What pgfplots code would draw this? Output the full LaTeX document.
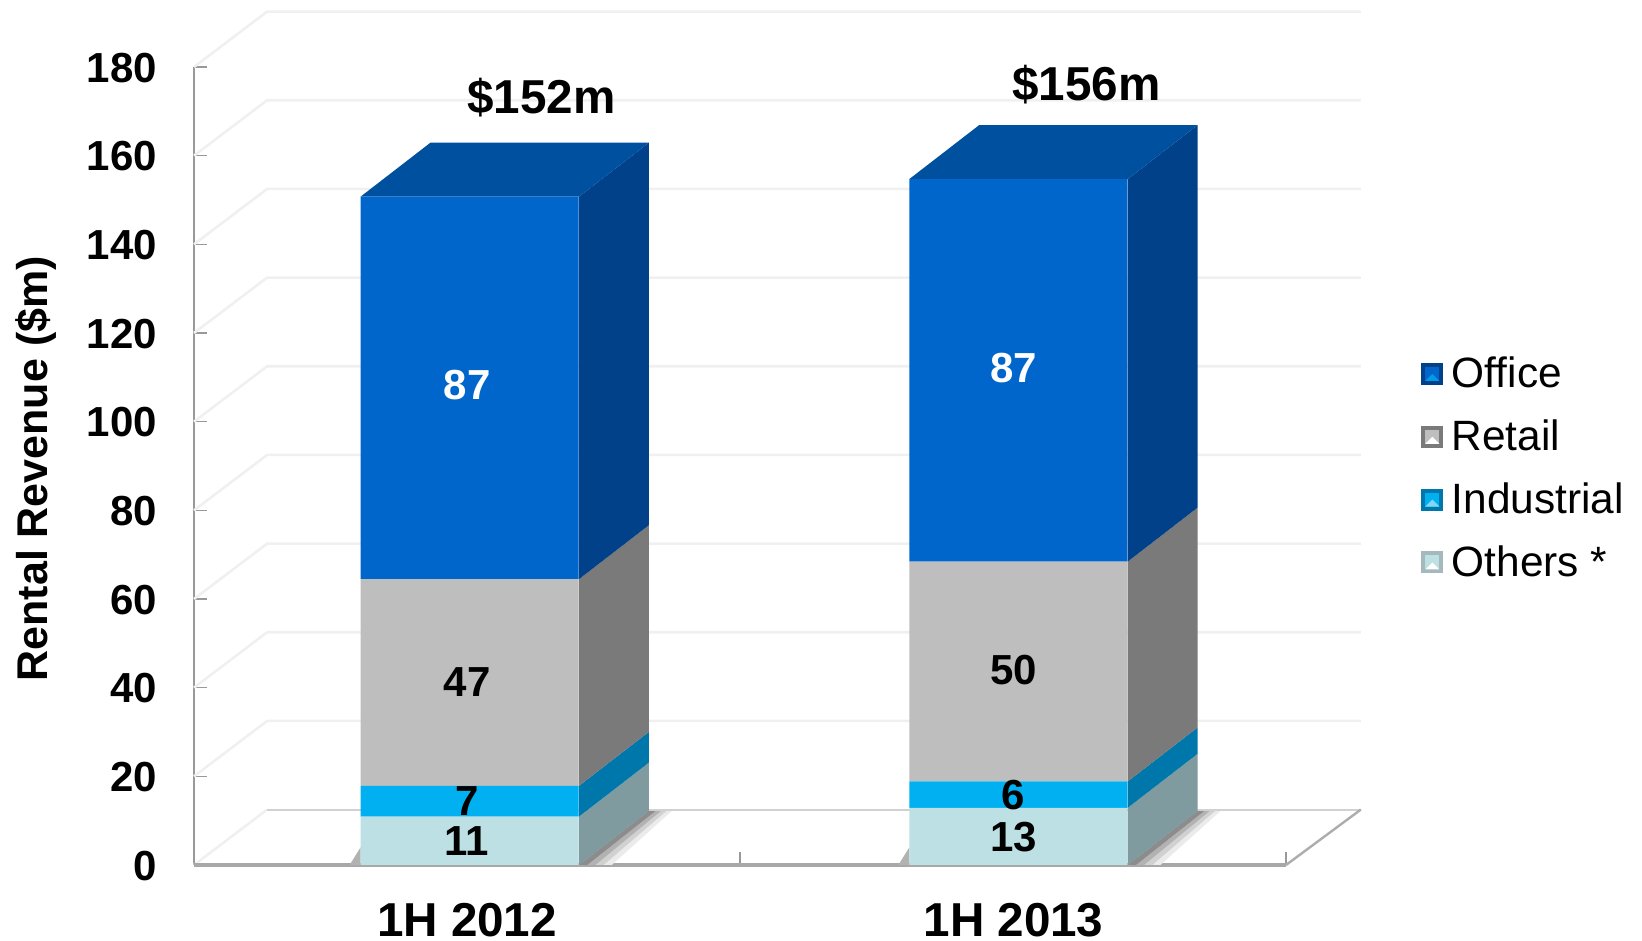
\documentclass[border=0pt]{standalone}
\usepackage{pgfplots}
\pgfplotsset{compat=1.18}
\usepackage{pgfplotstable}
\usepackage{fontspec}
\setmainfont{Liberation Sans}
\definecolor{offF}{HTML}{0066CC}\definecolor{offS}{HTML}{00418A}\definecolor{offT}{HTML}{0050A0}
\definecolor{retF}{HTML}{BEBEBE}\definecolor{retS}{HTML}{7A7A7A}
\definecolor{indF}{HTML}{00B0F0}\definecolor{indS}{HTML}{0077AB}
\definecolor{othF}{HTML}{BCE0E3}\definecolor{othS}{HTML}{7F9BA0}
\definecolor{gridc}{HTML}{F0F0F0}\definecolor{axc}{HTML}{999999}
\pgfplotstableread{
x     others industrial retail office
0.505 11     7          47     87
1.51  13     6          50     87
}\revenue
\pgfplotsset{
  base/.style={at={(97pt,38pt)},anchor=south west,scale only axis,width=546pt,height=399pt,
    xmin=0,xmax=2,ymin=0,clip=false},
  bevel/.style n args={3}{legend image code/.code={
    \fill[#1] (0pt,-5.5pt) rectangle (11pt,5.5pt);
    \fill[#2] (2pt,-3.5pt) rectangle (9pt,3.5pt);
    \fill[#3] (2pt,-3.5pt) -- (5.5pt,0pt) -- (9pt,-3.5pt) -- cycle;}}
}
\newcommand\bigb{\fontsize{21}{25}\selectfont\bfseries}
\begin{document}
\begin{tikzpicture}
\path[use as bounding box] (0pt,0pt) rectangle (821pt,470.5pt);
% walls, gridlines, value axis
\begin{axis}[base,ymax=180,
  axis x line*=bottom,axis y line*=left,
  axis line style={draw=axc,line width=1pt},
  tick style={draw=axc,line width=0.8pt},
  major tick length=6.5pt,
  xtick={0,1,2},xticklabels={},
  ytick={0,20,...,180},
  /pgf/number format/assume math mode=true,
  yticklabel style={font=\bigb,xshift=-15pt,yshift=-0.3pt},
  ylabel={Rental Revenue (\$m)},
  ylabel style={at={(axis description cs:-0.1445,0.4965)},anchor=center,font=\fontsize{21.5}{25}\selectfont\bfseries},
]
\addplot[gridc,line width=1.3pt] coordinates {(0,20)(.134,32.5)(2.137,32.5)};
\addplot[gridc,line width=1.3pt] coordinates {(0,40)(.134,52.5)(2.137,52.5)};
\addplot[gridc,line width=1.3pt] coordinates {(0,60)(.134,72.5)(2.137,72.5)};
\addplot[gridc,line width=1.3pt] coordinates {(0,80)(.134,92.5)(2.137,92.5)};
\addplot[gridc,line width=1.3pt] coordinates {(0,100)(.134,112.5)(2.137,112.5)};
\addplot[gridc,line width=1.3pt] coordinates {(0,120)(.134,132.5)(2.137,132.5)};
\addplot[gridc,line width=1.3pt] coordinates {(0,140)(.134,152.5)(2.137,152.5)};
\addplot[gridc,line width=1.3pt] coordinates {(0,160)(.134,172.5)(2.137,172.5)};
\addplot[gridc,line width=1.3pt] coordinates {(0,180)(.134,192.5)(2.137,192.5)};
\addplot[gridc,line width=1.3pt] coordinates {(0,0)(.134,12.5)};
\addplot[black!18,line width=1pt] coordinates {(.134,12.5)(2.137,12.5)};
\addplot[axc!80,line width=1.2pt] coordinates {(2,0)(2.137,12.5)};
\addplot[axc!85,line width=1.6pt] coordinates {(0,0)(2,0)};
\end{axis}
% depth of the bars: side faces, tops, floor shadows
\begin{axis}[base,ymax=181.5,hide axis]
\addplot[fill=black!8,draw=none] coordinates {(.705,0)(.833,12.28)(.875,12.28)(.765,0)} -- cycle;
\addplot[fill=black!18,draw=none] coordinates {(.705,0)(.833,12.28)(.865,12.28)(.75,0)} -- cycle;
\addplot[fill=black!30,draw=none] coordinates {(.705,0)(.833,12.28)(.855,12.28)(.735,0)} -- cycle;
\addplot[fill=black!45,draw=none] coordinates {(.705,0)(.833,12.28)(.845,12.28)(.72,0)} -- cycle;
\addplot[fill=black!8,draw=none] coordinates {(1.71,0)(1.838,12.28)(1.88,12.28)(1.77,0)} -- cycle;
\addplot[fill=black!18,draw=none] coordinates {(1.71,0)(1.838,12.28)(1.87,12.28)(1.755,0)} -- cycle;
\addplot[fill=black!30,draw=none] coordinates {(1.71,0)(1.838,12.28)(1.86,12.28)(1.74,0)} -- cycle;
\addplot[fill=black!45,draw=none] coordinates {(1.71,0)(1.838,12.28)(1.85,12.28)(1.725,0)} -- cycle;
\addplot[fill=black!30,draw=none] coordinates {(.305,0)(.305,4)(.285,0)} -- cycle;
\addplot[fill=black!30,draw=none] coordinates {(1.31,0)(1.31,4)(1.29,0)} -- cycle;
\addplot[fill=othS,draw=none] coordinates {(.705,0)(.833,12.28)(.833,23.28)(.705,11)} -- cycle;
\addplot[fill=indS,draw=none] coordinates {(.705,11)(.833,23.28)(.833,30.28)(.705,18)} -- cycle;
\addplot[fill=retS,draw=none] coordinates {(.705,18)(.833,30.28)(.833,77.28)(.705,65)} -- cycle;
\addplot[fill=offS,draw=none] coordinates {(.705,65)(.833,77.28)(.833,164.28)(.705,152)} -- cycle;
\addplot[fill=offT,draw=none] coordinates {(.305,152)(.433,164.28)(.833,164.28)(.705,152)} -- cycle;
\addplot[fill=othS,draw=none] coordinates {(1.71,0)(1.838,12.28)(1.838,25.28)(1.71,13)} -- cycle;
\addplot[fill=indS,draw=none] coordinates {(1.71,13)(1.838,25.28)(1.838,31.28)(1.71,19)} -- cycle;
\addplot[fill=retS,draw=none] coordinates {(1.71,19)(1.838,31.28)(1.838,81.28)(1.71,69)} -- cycle;
\addplot[fill=offS,draw=none] coordinates {(1.71,69)(1.838,81.28)(1.838,168.28)(1.71,156)} -- cycle;
\addplot[fill=offT,draw=none] coordinates {(1.31,156)(1.438,168.28)(1.838,168.28)(1.71,156)} -- cycle;
\end{axis}
% front faces
\begin{axis}[base,ymax=181.5,ybar stacked,bar width=109pt,
  axis line style={draw=none},ytick=\empty,
  xtick={.5,1.501},xticklabels={1H 2012,1H 2013},major tick length=0pt,
  xticklabel style={font=\fontsize{23.8}{28}\selectfont\bfseries,anchor=base,inner sep=0pt,yshift=-36pt},
  reverse legend,
  legend cell align=left,
  legend style={at={(1.1236,0.637)},anchor=north west,draw=none,fill=none,
    inner sep=0pt,row sep=14.55pt,/tikz/column sep=4.2pt,
    nodes={inner sep=0pt,font=\fontsize{21.2}{25}\selectfont}},
]
\addplot[fill=othF,draw=none,bevel={othS!70}{othF}{white}] table[x=x,y=others] {\revenue};
\addlegendentry{Others *}
\addplot[fill=indF,draw=none,bevel={indS}{indF}{indF!50}] table[x=x,y=industrial] {\revenue};
\addlegendentry{Industrial}
\addplot[fill=retF,draw=none,bevel={retS}{retF}{white}] table[x=x,y=retail] {\revenue};
\addlegendentry{Retail}
\addplot[fill=offF,draw=none,bevel={offS}{offF}{indF!70!offF}] table[x=x,y=office] {\revenue};
\addlegendentry{Office}
\end{axis}
% value labels, above the bars
\begin{axis}[base,ymax=181.5,hide axis]
\node[font=\bigb,text=white] at (axis cs:.5,109.05) {87};
\node[font=\bigb] at (axis cs:.5,41.67) {47};
\node[font=\bigb] at (axis cs:.5,14.5) {7};
\node[font=\bigb] at (axis cs:.5,5.48) {11};
\node[font=\bigb,text=white] at (axis cs:1.501,113.1) {87};
\node[font=\bigb] at (axis cs:1.501,44.3) {50};
\node[font=\bigb] at (axis cs:1.501,15.95) {6};
\node[font=\bigb] at (axis cs:1.501,6.43) {13};
\node[font=\fontsize{23.8}{28}\selectfont\bfseries] at (axis cs:.6365,174.5) {\$152m};
\node[font=\fontsize{23.8}{28}\selectfont\bfseries] at (axis cs:1.6347,177.6) {\$156m};
\end{axis}
\end{tikzpicture}
\end{document}
